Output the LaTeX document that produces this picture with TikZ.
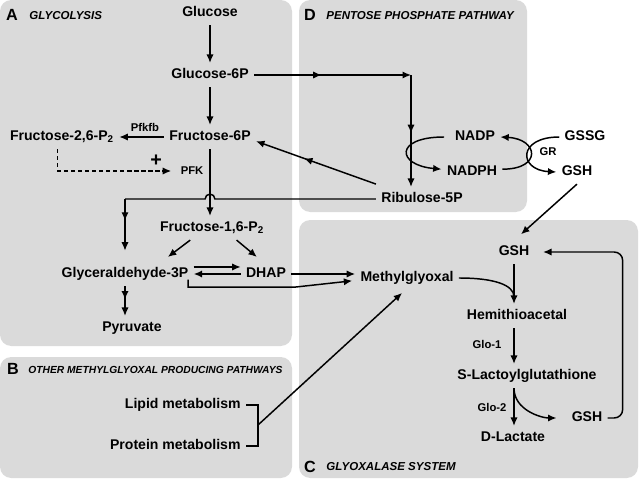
\documentclass[tikz,border=0pt]{standalone}
\usepackage{fontspec}
\setmainfont{Liberation Sans}
\usetikzlibrary{arrows.meta}
\usetikzlibrary{decorations.markings}
\definecolor{panelgray}{RGB}{218,218,218}

\begin{document}
\begin{tikzpicture}[x=0.025cm, y=0.025cm, line width=1.05pt, >={Latex[length=6pt,width=5.2pt]},
    met/.style={font=\bfseries\fontsize{10}{12}\selectfont, text height=7.5pt, text depth=2pt},
    enz/.style={font=\bfseries\fontsize{8}{10}\selectfont, text height=6pt, text depth=1.5pt},
    letter/.style={font=\bfseries\fontsize{11.5}{13}\selectfont},
    ttl/.style={font=\bfseries\itshape\fontsize{8.2}{10}\selectfont, anchor=west},
    midarrow/.style={postaction={decorate}, decoration={markings, mark=at position #1 with {\arrow{>}}}}]  % pixel units
            \useasboundingbox (0,0) rectangle (640,-480);
            \clip (0,0) rectangle (640,-480);

            % panels
            \fill[panelgray, rounded corners=8pt] (0,0) rectangle (292,-346);
            \fill[panelgray, rounded corners=8pt] (0,-357) rectangle (292,-478);
            \fill[panelgray, rounded corners=8pt] (299,0) rectangle (527,-212);
            \fill[panelgray, rounded corners=8pt] (299,-220) rectangle (638,-478);

            % panel titles
            \node[letter] (la) at (12,-15) {A};
            \node[ttl] (ta) at (24,-16) {GLYCOLYSIS};
            \node[letter] (ld) at (310,-15) {D};
            \node[ttl] (td) at (321,-16) {PENTOSE PHOSPHATE PATHWAY};
            \node[letter] (lb) at (13,-369) {B};
            \node[ttl, font=\bfseries\itshape\fontsize{7.3}{9}\selectfont] (tb) at (23,-370) {OTHER METHYLGLYOXAL PRODUCING PATHWAYS};
            \node[letter] (lc) at (310,-467) {C};
            \node[ttl] (tc) at (321,-467) {GLYOXALASE SYSTEM};

            % glycolysis
            \node[met] (glc) at (210,-13) {Glucose};
            \node[met] (g6p) at (210,-75) {Glucose-6P};
            \node[met] (f6p) at (210,-137) {Fructose-6P};
            \node[met] (f26) at (62,-137) {Fructose-2,6-P\textsubscript{2}};
            \node[enz] (pfkfb) at (145,-128) {Pfkfb};
            \node[enz] (pfk) at (192,-171) {PFK};
            \node[font=\bfseries\fontsize{14}{14}\selectfont] (plus) at (156,-161) {+};
            \node[met] (f16) at (212,-228) {Fructose-1,6-P\textsubscript{2}};
            \node[met] (ga3p) at (125,-274) {Glyceraldehyde-3P};
            \node[met] (dhap) at (266,-274) {DHAP};
            \node[met] (pyr) at (132,-328) {Pyruvate};

            \draw[->] (glc) -- (g6p);
            \draw[->] (g6p) -- (f6p);
            \draw[->] (f6p) -- (f26);
            \draw[->, line width=0.9pt, dash pattern=on 3pt off 2pt, shorten >=3pt] ([xshift=-3pt]f26.south) |- (pfk.west);
            \draw[->] (f6p) -- (f6p |- f16.north);
            \draw[->] ([xshift=-15.5pt]f16.south) -- ([xshift=30.5pt,yshift=3.5pt]ga3p.north);
            \draw[->] ([xshift=17.5pt]f16.south) -- ([xshift=-6.5pt,yshift=3.5pt]dhap.north);
            \draw[->] ([yshift=5pt]ga3p.east) -- ([yshift=5pt]dhap.west);
            \draw[->] (dhap.west) -- (ga3p.east);
            \draw[->, midarrow=0.45] (ga3p) -- (ga3p |- pyr.north);

            % other pathways
            \node[met, anchor=east] (lip) at (246,-405) {Lipid metabolism};
            \node[met, anchor=east] (pro) at (246,-446) {Protein metabolism};
            \coordinate (brk) at (258,-425);
            \draw (lip.east) -| (brk) |- (pro.east);

            % methylglyoxal
            \node[met] (mgo) at (407,-278) {Methylglyoxal};
            \draw[->] (dhap.east) -- (dhap.east -| mgo.west);
            \draw[->] ([xshift=-4pt,yshift=-4pt]ga3p.east) |- ([xshift=-43pt,yshift=-6.5pt]mgo.west) -- ([xshift=-2pt,yshift=-2pt]mgo.west);
            \draw[->] (brk) -- ([xshift=-3.5pt,yshift=-2pt]mgo.south);

            % pentose phosphate pathway
            \node[met] (rib5p) at (422,-199) {Ribulose-5P};
            \node[met] (nadp) at (475,-137) {NADP};
            \node[met] (nadph) at (472,-172) {NADPH};
            \node[met] (gssg) at (585,-137) {GSSG};
            \node[met] (gshd) at (577,-172) {GSH};
            \node[enz] (gr) at (548,-152) {GR};
            \coordinate (ppp) at (411,-75);

            \draw[->, midarrow=0.43] (g6p) -- (ppp);
            \draw[->, midarrow=0.52] (ppp) -- (ppp |- rib5p.north);
            \draw[->, midarrow=0.6] ([yshift=2pt]rib5p.north west) -- ([yshift=-3pt]f6p.east);
            \draw (rib5p.west) -- ([xshift=3.5pt]f6p.center |- rib5p.west) arc[start angle=0, end angle=180, radius=3.5pt] -- (ga3p.north |- rib5p.west);
            \draw[->, midarrow=0.42] (ga3p.north |- rib5p.west) -- ([yshift=8pt]ga3p.north);
            \draw[->] ([xshift=-4pt]nadp.west) .. controls +(-50,0) and +(-45,4) .. ([yshift=2pt]nadph.west);
            \draw[->] ([yshift=2pt]nadph.east) .. controls +(40,0) and +(38,-2) .. (nadp.east);
            \draw[->] (gssg.west) .. controls +(-42,0) and +(-38,2) .. (gshd.west);

            % glyoxalase system
            \node[met] (gsha) at (514,-252) {GSH};
            \node[met] (hemi) at (517,-316) {Hemithioacetal};
            \node[met] (slg) at (527,-376) {S-Lactoylglutathione};
            \node[met] (dlac) at (513,-438) {D-Lactate};
            \node[met] (gshb) at (587,-418) {GSH};
            \node[enz] (glo1) at (487,-345) {Glo-1};
            \node[enz] (glo2) at (492,-408) {Glo-2};

            \draw[->] (gshd.south) -- ([xshift=5pt,yshift=4pt]gsha.north);
            \draw[->] (gsha) -- (gsha |- hemi.north);
            \draw (mgo.east) .. controls +(35,0) and +(0,12) .. ([yshift=5pt]gsha |- hemi.north);
            \draw[->] (hemi.south -| gsha) -- (gsha |- slg.north);
            \draw[->] (slg.south -| gsha) -- (gsha |- dlac.north);
            \draw[->, shorten >=7pt] (slg.south -| gsha) .. controls +(0,-22) and +(-25,0) .. (gshb.west);
            \draw[->, rounded corners=6pt] (gshb.east) -- ++(15,0) |- ([xshift=6pt]gsha.east);

        \end{tikzpicture}
\end{document}
